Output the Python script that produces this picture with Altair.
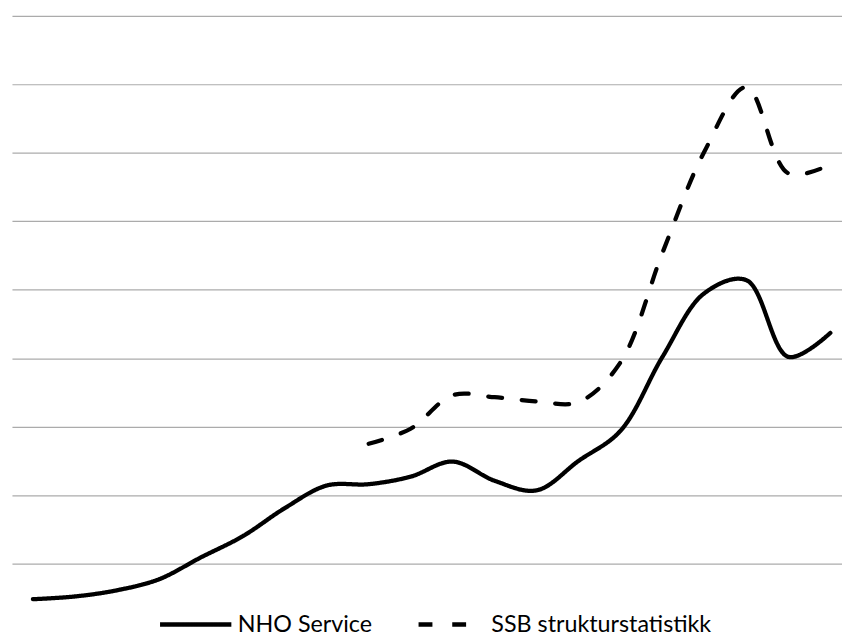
import altair as alt
import pandas as pd

# Periods (x positions, evenly spaced categories)
periods = list(range(20))

# Series values (gridline units)
nho_service = [0.48, 0.52, 0.61, 0.77, 1.09, 1.40, 1.81, 2.14, 2.16, 2.27,
               2.49, 2.21, 2.07, 2.50, 2.94, 4.02, 4.95, 5.14, 4.02, 4.37]
ssb_struktur = [None, None, None, None, None, None, None, None, 2.75, 2.97,
                3.46, 3.43, 3.37, 3.36, 3.94, 5.54, 7.02, 7.96, 6.70, 6.83]

series_names = ["NHO Service", "SSB strukturstatistikk"]
grid_values = [1, 2, 3, 4, 5, 6, 7, 8, 9]

rows = []
for p, v in zip(periods, nho_service):
    rows.append({"period": p, "value": v, "series": series_names[0]})
for p, v in zip(periods, ssb_struktur):
    if v is not None:
        rows.append({"period": p, "value": v, "series": series_names[1]})
df = pd.DataFrame(rows)

chart = alt.Chart(df).mark_line(
    color="black", strokeWidth=4.3, interpolate="catmull-rom", strokeCap="round"
).encode(
    x=alt.X("period:Q", axis=None, scale=alt.Scale(domain=[-0.5, 19.278], nice=False, zero=False)),
    y=alt.Y("value:Q",
            scale=alt.Scale(domain=[0.16, 9], nice=False, zero=False),
            axis=alt.Axis(values=grid_values, grid=True, labels=False, ticks=False,
                          domain=False, title=None, gridColor="#ababab", gridWidth=1.2)),
    strokeDash=alt.StrokeDash(
        "series:N",
        scale=alt.Scale(domain=series_names, range=[[1, 0], [14, 20]]),
        legend=alt.Legend(
            title=None, orient="none", legendX=147, legendY=576,
            direction="horizontal", symbolType="stroke", symbolSize=5184,
            symbolStrokeWidth=4.5, symbolStrokeColor="black",
            symbolDashOffset=29,
            labelFont="Lato", labelFontSize=23.5, labelColor="black",
            labelOffset=4, labelLimit=500, columnPadding=32, padding=0,
        ),
    ),
).properties(
    width=838, height=611,
    autosize=alt.AutoSizeParams(type="none"),
    padding={"left": 4, "top": 5, "right": 0, "bottom": 8},
).configure_view(stroke=None)

chart.save("out.html", embed_options={"renderer": "svg", "actions": False})
